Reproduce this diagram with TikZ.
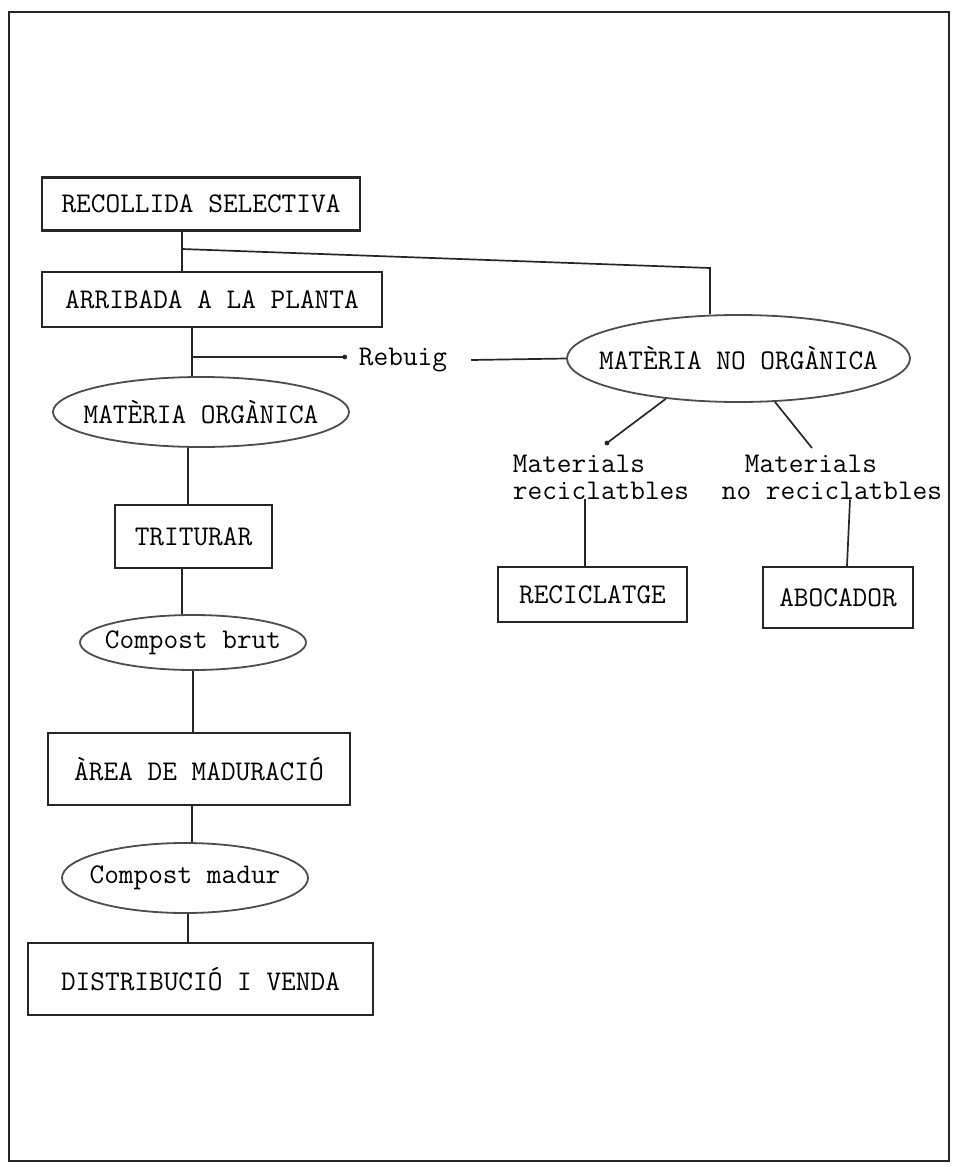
\documentclass[tikz,border=0pt]{standalone}
\usetikzlibrary{shapes.geometric,calc}
\begin{document}
\begin{tikzpicture}[x=1pt,y=-1pt,
  every node/.style={font=\ttfamily\fontsize{28.5}{27}\selectfont, inner sep=0pt, text=black},
  stepbox/.style={draw=black!85, line width=2.2pt, rectangle},
  oval/.style={draw=black!70, line width=1.8pt, ellipse},
  conn/.style={line width=1.7pt, draw=black!85}]
\useasboundingbox (0,0) rectangle (959,1167);
\draw[line width=2.5pt, black!85] (9,12) rectangle (949,1161);

\node[stepbox, minimum width=318pt, minimum height=53pt] (rec) at (201,204) {RECOLLIDA SELECTIVA};
\node[stepbox, minimum width=340pt, minimum height=55pt] (arr) at (212,299.5) {ARRIBADA A LA PLANTA};
\node[oval, minimum width=296pt, minimum height=70pt] (morg) at (201,412) {\makebox[0pt]{MATÈRIA ORGÀNICA}};
\node[stepbox, minimum width=157pt, minimum height=63pt] (trit) at (193.5,536.5) {TRITURAR};
\node[oval, minimum width=226pt, minimum height=55pt] (cbrut) at (193,642.5) {\makebox[0pt]{Compost brut}};
\node[stepbox, minimum width=302pt, minimum height=72pt] (area) at (199,769) {ÀREA DE MADURACIÓ};
\node[oval, minimum width=246pt, minimum height=70pt] (cmad) at (185,878) {\makebox[0pt]{Compost madur}};
\node[stepbox, minimum width=345pt, minimum height=72pt] (dist) at (200.5,979) {DISTRIBUCIÓ I VENDA};
\node[oval, minimum width=343pt, minimum height=87pt] (nono) at (738.5,358.5) {\makebox[0pt]{MATÈRIA NO ORGÀNICA}};
\node (reb) at (403,360) {Rebuig};
\node[align=left] (mr) at (601,477) {Materials\\reciclatbles};
\node[align=left] (mnr) at (832,477) {\hspace*{23pt}Materials\\no reciclatbles};
\node[stepbox, minimum width=189pt, minimum height=55pt] (recic) at (592.5,594.5) {RECICLATGE};
\node[stepbox, minimum width=150pt, minimum height=61pt] (abo) at (838,597.5) {ABOCADOR};

\coordinate (j1) at (182,249);
\coordinate (j2) at (710,268);
\coordinate (j3) at (192,357);
\coordinate (d1) at (607,443);
\coordinate (d2) at (812,448);

\draw[conn] (rec.south -| j1) -- (arr.north -| j1);
\draw[conn] (j1) -- (j2) -- (nono.north -| j2);
\draw[conn] (arr.south -| j3) -- (morg.north -| j3);
\draw[conn] (j3) -- ([xshift=-14pt]reb.west |- j3) coordinate (rdot);
\fill[black!85] (rdot) circle (2.4pt);
\draw[conn] ([xshift=24pt]reb.east) -- (nono.west);
\draw[conn] ([xshift=-13pt]morg.south) -- ([xshift=-13pt]morg.south |- trit.north);
\draw[conn] ([xshift=-11.5pt]trit.south) -- ([xshift=-11.5pt]trit.south |- cbrut.north);
\draw[conn] (cbrut.south) -- (cbrut.south |- area.north);
\draw[conn] ([xshift=-7pt]area.south) -- ([xshift=-7pt]area.south |- cmad.north);
\draw[conn] ([xshift=3pt]cmad.south) -- ([xshift=3pt]cmad.south |- dist.north);
\draw[conn] (nono.209) -- (d1);
\fill[black!85] (d1) circle (2.4pt);
\draw[conn] (nono.310) -- (d2);
\draw[conn] ([xshift=-7.5pt]recic.north |- mr.south) -- ([xshift=-7.5pt]recic.north);
\draw[conn] ([xshift=12pt]abo.north |- mnr.south) -- ([xshift=9pt]abo.north);
\end{tikzpicture}
\end{document}
